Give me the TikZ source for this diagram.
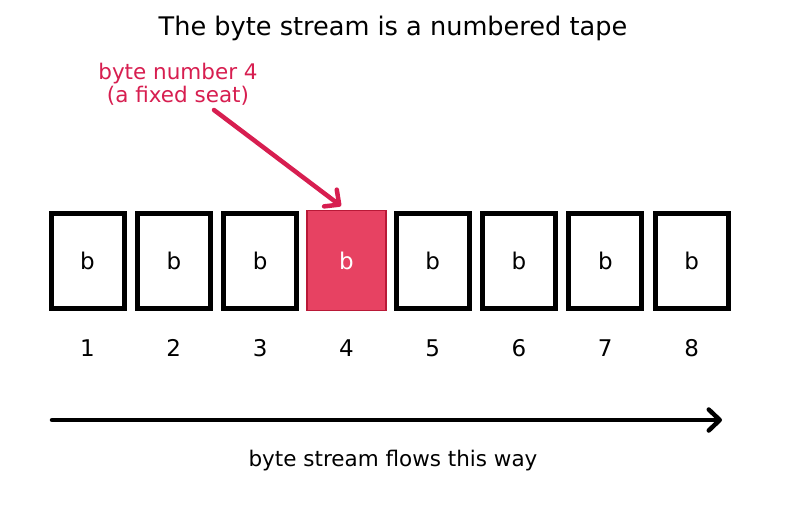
\documentclass[tikz,border=0pt]{standalone}
\usepackage{fontspec}
\setmainfont{DejaVu Sans}
\usetikzlibrary{arrows.meta}
\definecolor{crim}{RGB}{215,30,80}
\definecolor{cellfill}{RGB}{231,66,98}
\definecolor{celledge}{RGB}{185,25,55}
\begin{document}
\begin{tikzpicture}[x=1pt,y=-1pt,
  cell/.style={draw=black,line width=5pt,minimum width=73pt,minimum height=95pt,inner sep=0pt,font=\fontsize{23}{27}\selectfont},
  hot/.style={fill=cellfill,draw=celledge,line width=1.5pt,minimum width=79pt,minimum height=100pt,inner sep=0pt,text=white,font=\fontsize{23}{27}\selectfont},
  num/.style={font=\fontsize{23}{27}\selectfont,inner sep=0pt},
  flow/.style={line width=4.5pt,line cap=round,-{Straight Barb[length=11pt,width=21pt,line width=4.5pt,round]}}]
\useasboundingbox (0,0) rectangle (787,512);
\node[font=\fontsize{25.6}{30}\selectfont] (title) at (393,28) {The byte stream is a numbered tape};
\foreach \i/\x in {1/87.5,2/173.8,3/260.1,5/432.7,6/519,7/605.3,8/691.6}{
  \node[cell] (c\i) at (\x,260.5) {b};
}
\node[hot] (c4) at (346.4,260.5) {b};
\foreach \i/\x in {1/87.5,2/173.8,3/260.1,4/346.4,5/432.7,6/519,7/605.3,8/691.6}{
  \node[num] (n\i) at (\x,348) {\i};
}
\node[text=crim,align=center,font=\fontsize{21.5}{23.5}\selectfont] (lab) at (178,84) {byte number 4\\(a fixed seat)};
\coordinate (as) at (214,110);
\coordinate (ae) at (341,206);
\draw[flow,draw=crim] (as) -- (ae);
\coordinate (fs) at (52,420);
\coordinate (fe) at (722,420);
\draw[flow] (fs) -- (fe);
\node[font=\fontsize{21.5}{25}\selectfont] (cap) at (393,461) {byte stream flows this way};
\end{tikzpicture}
\end{document}
